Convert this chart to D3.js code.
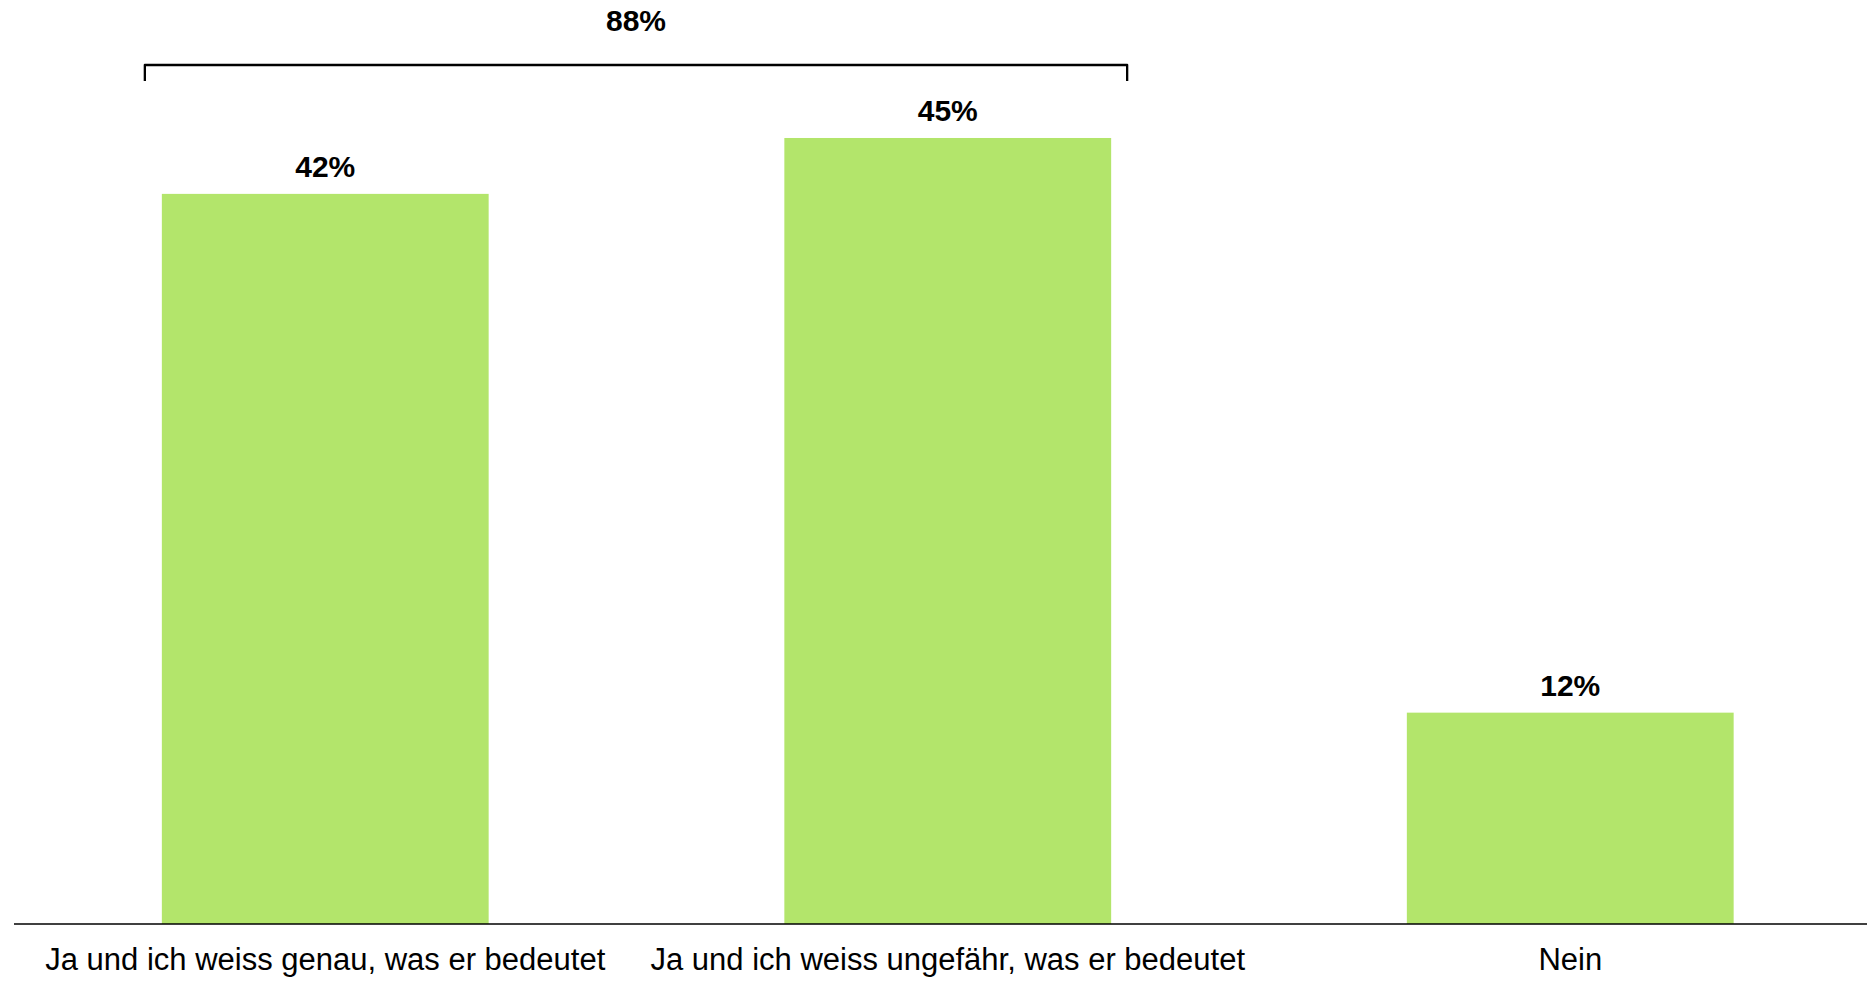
<!DOCTYPE html>
<html>
<head>
<meta charset="utf-8">
<script src="https://cdn.jsdelivr.net/npm/d3@7"></script>
<style>
  html, body { margin: 0; padding: 0; background: #ffffff; }
  svg { display: block; }
  text { font-family: "Liberation Sans", Arial, Helvetica, sans-serif; fill: #000; }
</style>
</head>
<body>
<svg id="chart" width="1867" height="981"></svg>
<script>
const categories = [
  "Ja und ich weiss genau, was er bedeutet",
  "Ja und ich weiss ungefähr, was er bedeutet",
  "Nein"
];
const values = [41.8, 45, 12.1];
const bracketLabel = "88%";
const bracketCategories = [categories[0], categories[1]];

const W = 1867, H = 981;
const baseline = 924;
const pxPerPct = 17.467;
const svg = d3.select("#chart");

const x = d3.scaleBand()
  .domain(categories)
  .range([14, 1881.5])
  .paddingInner(0.475)
  .paddingOuter(0.2375);

const y = d3.scaleLinear()
  .domain([0, 50])
  .range([baseline, baseline - 50 * pxPerPct]);

// bars
svg.append("g").selectAll("rect")
  .data(categories)
  .join("rect")
  .attr("x", d => x(d))
  .attr("y", (d, i) => y(values[i]))
  .attr("width", x.bandwidth())
  .attr("height", (d, i) => y(0) - y(values[i]))
  .attr("fill", "#b3e56b");

// value labels
svg.append("g").selectAll("text")
  .data(categories)
  .join("text")
  .attr("x", d => x(d) + x.bandwidth() / 2)
  .attr("y", (d, i) => y(values[i]) - 17)
  .attr("text-anchor", "middle")
  .attr("font-size", 30)
  .attr("font-weight", "bold")
  .text((d, i) => Math.round(values[i]) + "%");

// x axis
const xAxis = d3.axisBottom(x).tickSize(0).tickPadding(0);
const gx = svg.append("g")
  .attr("transform", `translate(0,${baseline})`)
  .call(xAxis);
gx.select(".domain").remove();
gx.append("line")
  .attr("x1", 14).attr("x2", W)
  .attr("y1", 0).attr("y2", 0)
  .attr("stroke", "#000").attr("stroke-width", 1.5);
gx.selectAll(".tick text")
  .attr("y", 46)
  .attr("dy", null)
  .attr("font-size", 31)
  .attr("font-family", "\"Liberation Sans\", Arial, sans-serif")
  .attr("fill", "#000");

// bracket
const bx1 = x(bracketCategories[0]) - 17;
const bx2 = x(bracketCategories[1]) + x.bandwidth() + 16;
const by = 65, byEnd = 81;
svg.append("path")
  .attr("d", `M${bx1},${byEnd} L${bx1},${by} L${bx2},${by} L${bx2},${byEnd}`)
  .attr("fill", "none")
  .attr("stroke", "#000")
  .attr("stroke-width", 2.3)
  .attr("stroke-linejoin", "round");

svg.append("text")
  .attr("x", (bx1 + bx2) / 2)
  .attr("y", 31)
  .attr("text-anchor", "middle")
  .attr("font-size", 30)
  .attr("font-weight", "bold")
  .text(bracketLabel);
</script>
</body>
</html>
